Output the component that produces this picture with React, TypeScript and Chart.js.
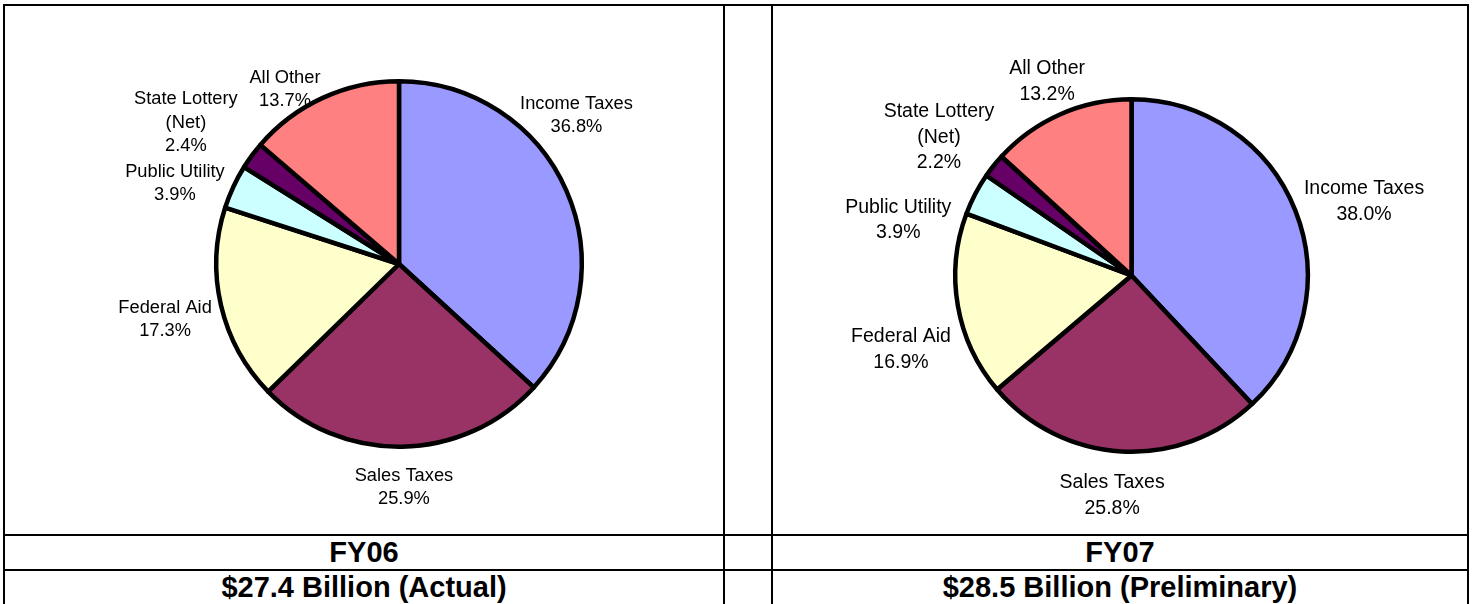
import React, { useEffect, useRef } from "react";
import { Chart, registerables } from "chart.js";

Chart.register(...registerables);

// ---- data ----
const CATEGORIES = ["Income Taxes", "Sales Taxes", "Federal Aid", "Public Utility", "State Lottery (Net)", "All Other"];
const LABEL_LINES = [["Income Taxes"], ["Sales Taxes"], ["Federal Aid"], ["Public Utility"], ["State Lottery", "(Net)"], ["All Other"]];
const FY06_SHARES = [36.8, 25.9, 17.3, 3.9, 2.4, 13.7];
const FY07_SHARES = [38.0, 25.8, 16.9, 3.9, 2.2, 13.2];
const PERIODS = ["FY06", "FY07"];
const TOTALS = ["$27.4 Billion (Actual)", "$28.5 Billion (Preliminary)"];

// ---- styles / layout ----
const COLORS = ["#9999FF", "#993366", "#FFFFCC", "#CCFFFF", "#660066", "#FF8080"];
const FONT = '"Liberation Sans", Arial, Helvetica, sans-serif';
// label block centre, in units of the pie radius, relative to the pie centre
const LABEL_OFFSETS_FY06 = [
  [0.971, -0.82],
  [0.027, 1.213],
  [-1.28, 0.296],
  [-1.226, -0.448],
  [-1.166, -0.782],
  [-0.624, -0.965],
];
const LABEL_OFFSETS_FY07 = [
  [1.3194, -0.4276],
  [-0.11, 1.241],
  [-1.308, 0.41],
  [-1.3233, -0.3232],
  [-1.0924, -0.7933],
  [-0.479, -1.108],
];

const outsideLabels = {
  id: "outsideLabels",
  afterDatasetsDraw(chart: any, _args: any, opts: any) {
    const meta = chart.getDatasetMeta(0);
    const values = chart.data.datasets[0].data as number[];
    const ctx = chart.ctx as CanvasRenderingContext2D;
    ctx.save();
    ctx.fillStyle = "#000";
    ctx.font = `${opts.fontSize}px ${FONT}`;
    ctx.textAlign = "center";
    ctx.textBaseline = "alphabetic";
    meta.data.forEach((arc: any, i: number) => {
      const { x, y, outerRadius } = arc.getProps(["x", "y", "outerRadius"], true);
      const [ox, oy] = opts.offsets[i];
      const cx = x + ox * outerRadius;
      const cy = y + oy * outerRadius;
      const lines = [...LABEL_LINES[i], values[i].toFixed(1) + "%"];
      const n = lines.length;
      lines.forEach((t, k) => {
        ctx.fillText(t, cx, cy + (k - (n - 1) / 2) * opts.lineHeight + opts.fontSize * 0.36);
      });
    });
    ctx.restore();
  },
};

type PieProps = {
  values: number[];
  offsets: number[][];
  fontSize: number;
  lineHeight: number;
  padding: { left: number; right: number; top: number; bottom: number };
  left: number;
  top: number;
  width: number;
  height: number;
};

function PieCell(p: PieProps) {
  const ref = useRef<HTMLCanvasElement | null>(null);
  useEffect(() => {
    if (!ref.current) return;
    const chart = new Chart(ref.current, {
      type: "pie",
      data: {
        labels: CATEGORIES,
        datasets: [
          {
            data: p.values,
            backgroundColor: COLORS,
            borderColor: "#000000",
            borderWidth: 4.5,
            borderJoinStyle: "round",
          } as any,
        ],
      },
      options: {
        responsive: false,
        animation: false,
        events: [],
        layout: { padding: p.padding },
        plugins: {
          legend: { display: false },
          tooltip: { enabled: false },
          title: { display: false },
          outsideLabels: { offsets: p.offsets, fontSize: p.fontSize, lineHeight: p.lineHeight },
        } as any,
      },
      plugins: [outsideLabels as any],
    });
    return () => chart.destroy();
  }, []);
  return (
    <canvas
      ref={ref}
      width={p.width}
      height={p.height}
      style={{ position: "absolute", left: p.left, top: p.top, width: p.width, height: p.height }}
    />
  );
}

function Line({ x, y, w, h }: { x: number; y: number; w: number; h: number }) {
  return <div style={{ position: "absolute", left: x, top: y, width: w, height: h, background: "#000" }} />;
}

function Cell({ x, y, w, h, text, size }: { x: number; y: number; w: number; h: number; text: string; size: number }) {
  return (
    <div
      style={{
        position: "absolute",
        left: x,
        top: y,
        width: w,
        height: h,
        lineHeight: h + "px",
        textAlign: "center",
        fontFamily: FONT,
        fontWeight: "bold",
        fontSize: size,
        color: "#000",
        whiteSpace: "nowrap",
        overflow: "hidden",
      }}
    >
      {text}
    </div>
  );
}

export default function App() {
  return (
    <div style={{ position: "absolute", left: 0, top: 0, width: 1475, height: 604, background: "#fff", overflow: "hidden" }}>
      <PieCell
        values={FY06_SHARES}
        offsets={LABEL_OFFSETS_FY06}
        fontSize={18.3}
        lineHeight={23.4}
        padding={{ left: 209, right: 139, top: 73, bottom: 85 }}
        left={5}
        top={6}
        width={718}
        height={528}
      />
      <PieCell
        values={FY07_SHARES}
        offsets={LABEL_OFFSETS_FY07}
        fontSize={19.5}
        lineHeight={25.5}
        padding={{ left: 180, right: 157, top: 91, bottom: 80 }}
        left={773}
        top={6}
        width={694}
        height={528}
      />
      <Cell x={5} y={536} w={718} h={33} text={PERIODS[0]} size={29} />
      <Cell x={5} y={571} w={718} h={33} text={TOTALS[0]} size={29} />
      <Cell x={773} y={536} w={694} h={33} text={PERIODS[1]} size={29} />
      <Cell x={773} y={571} w={694} h={33} text={TOTALS[1]} size={29} />
      <Line x={3} y={4} w={1466} h={2} />
      <Line x={3} y={534} w={1466} h={2} />
      <Line x={3} y={569} w={1466} h={2} />
      <Line x={3} y={4} w={2} h={600} />
      <Line x={723} y={4} w={2} h={600} />
      <Line x={771} y={4} w={2} h={600} />
      <Line x={1467} y={4} w={2} h={600} />
    </div>
  );
}
